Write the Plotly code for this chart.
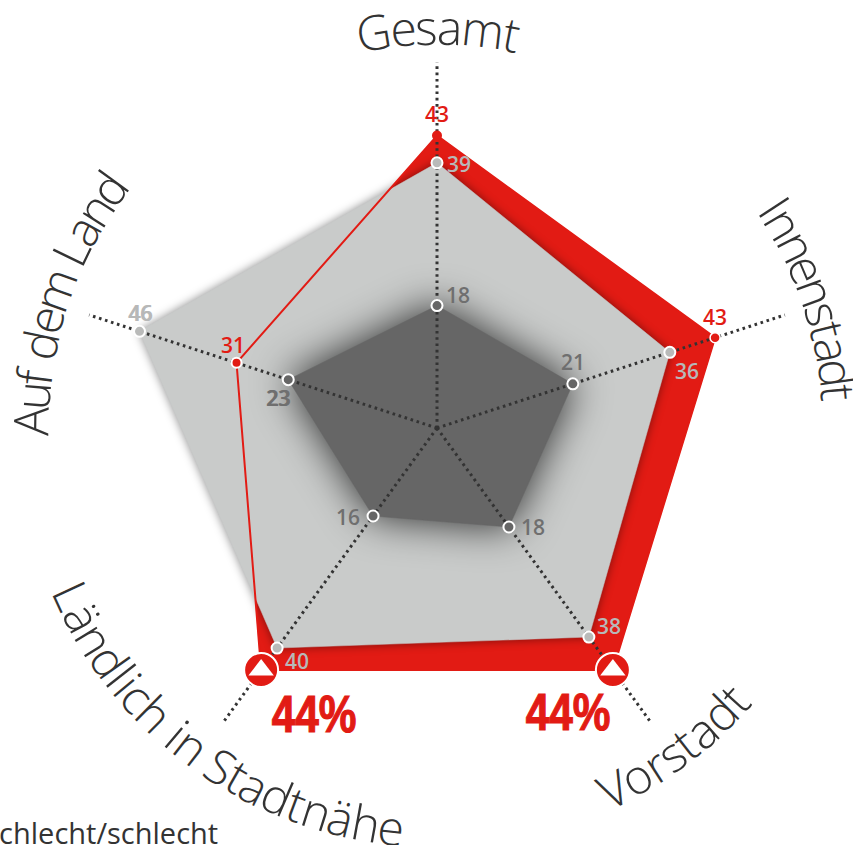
import math
import plotly.graph_objects as go

# Werte aus der Grafik, im Uhrzeigersinn ab "Gesamt"
categories = ["Gesamt", "Innenstadt", "Vorstadt", "Ländlich in Stadtnähe", "Auf dem Land"]
red_values = [43, 43, 44, 44, 31]
light_values = [39, 36, 38, 40, 46]
dark_values = [18, 21, 18, 16, 23]
spoke_ends = [53.8, 53.8, 53.2, 53.2, 53.8]
footnote = "sehr schlecht/schlecht"

RED = "#e21b14"
LIGHT = "#c9cbca"
DARK = "#666666"
INK = "#333333"
FONT = "Open Sans"

W, H = 853, 845
CX, CY = 437, 428
PX_PER_UNIT = 6.8
R_MAX = 54

# Mitte, Spanne (Grad), Radius der Beschriftung
label_arcs = {
    "Gesamt": (0.2, 23.4, 402),
    "Innenstadt": (71.0, 30.2, 404),
    "Vorstadt": (143.5, 24.7, 401),
    "Ländlich in Stadtnähe": (215.9, 62.0, 401),
    "Auf dem Land": (-71.5, 39.0, 407),
}
glyph_widths = {
    "G": .73, "e": .56, "s": .47, "a": .55, "m": .93, "t": .35, "I": .30, "n": .61,
    "d": .61, "V": .60, "o": .60, "r": .40, "L": .52, "ä": .55, "l": .26, "i": .26,
    "c": .47, "h": .61, " ": .26, "S": .52, "A": .63, "u": .61, "f": .34,
}


def closed(values):
    return values + values[:1], categories + categories[:1]


def to_paper(px, py):
    return px / W, 1 - py / H


def point_px(value, idx):
    a = math.radians(72 * idx)
    r = value * PX_PER_UNIT
    return CX + r * math.sin(a), CY - r * math.cos(a)


def polygon(fig, values, color):
    r, theta = closed(values)
    fig.add_trace(go.Scatterpolar(r=r, theta=theta, mode="lines", fill="toself", fillcolor=color,
                                  line=dict(color=color, width=0.5), hoverinfo="skip"))


def value_label(text, value, idx, dx, dy, color, size=21, weight=600, font=FONT):
    px, py = point_px(value, idx)
    x, y = to_paper(px + dx, py + dy)
    fig.add_annotation(x=x, y=y, xref="paper", yref="paper", xanchor="center", yanchor="middle",
                       text=text, showarrow=False,
                       font=dict(family=font, size=size, color=color, weight=weight))


def arc_label(text):
    # Text auf Kreisbahn um die Mitte, wie im Original
    mid, span, radius = label_arcs[text]
    total = sum(glyph_widths[c] for c in text)
    bottom = 90 < mid % 360 < 270
    pos = 0
    for c in text:
        w = glyph_widths[c]
        frac = (pos + w / 2) / total - 0.5
        pos += w
        ang = mid - frac * span if bottom else mid + frac * span
        a = math.radians(ang)
        x, y = to_paper(CX + radius * math.sin(a), CY - radius * math.cos(a))
        tilt = ang - 180 if bottom else ang
        if c != " ":
            fig.add_annotation(x=x, y=y, xref="paper", yref="paper", xanchor="center", yanchor="middle",
                               text=c, showarrow=False, textangle=tilt,
                               font=dict(family=FONT, size=48, color=INK, weight=300))


fig = go.Figure()

polygon(fig, red_values, RED)
polygon(fig, light_values, "rgba(0,0,0,0.45)")   # Schatten, Index 1
polygon(fig, light_values, LIGHT)
polygon(fig, dark_values, "rgba(0,0,0,0.8)")     # Schatten, Index 3
polygon(fig, dark_values, DARK)

# rote Kontur liegt über den grauen Flächen
r, theta = closed(red_values)
fig.add_trace(go.Scatterpolar(r=r, theta=theta, mode="lines", line=dict(color=RED, width=2), hoverinfo="skip"))

# gepunktete Achsen
for cat, end in zip(categories, spoke_ends):
    fig.add_trace(go.Scatterpolar(r=[0, end], theta=[cat, cat], mode="lines", hoverinfo="skip",
                                  line=dict(color="#333333", width=3, dash="2.6px,3.7px")))

fig.add_trace(go.Scatterpolar(r=dark_values, theta=categories, mode="markers", hoverinfo="skip",
                              marker=dict(size=11, color=DARK, line=dict(color="white", width=2))))
fig.add_trace(go.Scatterpolar(r=light_values, theta=categories, mode="markers", hoverinfo="skip",
                              marker=dict(size=11, color="#b9bab9", line=dict(color="white", width=2))))
fig.add_trace(go.Scatterpolar(r=red_values[:2] + red_values[4:], theta=categories[:2] + categories[4:],
                              mode="markers", hoverinfo="skip",
                              marker=dict(size=10, color=RED, line=dict(color="white", width=[0, 1.5, 2]))))

# Warnkreise bei den Höchstwerten
fig.add_trace(go.Scatterpolar(r=red_values[2:4], theta=categories[2:4], mode="markers", hoverinfo="skip",
                              marker=dict(size=34, color=RED, line=dict(color="white", width=2))))
fig.add_trace(go.Scatterpolar(r=red_values[2:4], theta=categories[2:4], mode="markers", hoverinfo="skip",
                              marker=dict(size=22, color="white", symbol="triangle-up")))

for cat in categories:
    arc_label(cat)

GREY_TXT = "#b7b8b8"
DARK_TXT = "#6f6f6f"
red_off = [(0, -22), (0, -21), None, None, (-4, -18)]
light_off = [(22, 1), (17, 19), (20, -11), (20, 13), (0, -18)]
dark_off = [(21, -11), (0, -22), (24, 0), (-25, 1), (-10, 18)]
for i in range(5):
    if red_off[i]:
        value_label(str(red_values[i]), red_values[i], i, *red_off[i], RED)
    value_label(str(light_values[i]), light_values[i], i, *light_off[i], GREY_TXT)
    value_label(str(dark_values[i]), dark_values[i], i, *dark_off[i], DARK_TXT)

# doppelt gesetzte Zahlen wie im Original
value_label(str(light_values[4]), light_values[4], 4, 1, -18, GREY_TXT)
value_label(str(dark_values[4]), dark_values[4], 4, -9, 18, DARK_TXT)

heavy = "Liberation Sans"
value_label(f"{red_values[2]}%", red_values[2], 2, -45, 42, RED, size=51, weight=700, font=heavy)
value_label(f"{red_values[3]}%", red_values[3], 3, 53, 44, RED, size=51, weight=700, font=heavy)

fx, fy = to_paper(220, 832)
fig.add_annotation(x=fx, y=fy, xref="paper", yref="paper", xanchor="right", yanchor="middle",
                   text=footnote, showarrow=False,
                   font=dict(family=FONT, size=29, color=INK, weight=400))

span = R_MAX * PX_PER_UNIT
fig.update_layout(
    width=W,
    height=H,
    margin=dict(l=0, r=0, t=0, b=0),
    paper_bgcolor="white",
    showlegend=False,
    polar=dict(
        domain=dict(x=[(CX - span) / W, (CX + span) / W], y=[1 - (CY + span) / H, 1 - (CY - span) / H]),
        bgcolor="rgba(0,0,0,0)",
        radialaxis=dict(visible=False, range=[0, R_MAX]),
        angularaxis=dict(visible=False, type="category", categoryorder="array", categoryarray=categories,
                         direction="clockwise", rotation=90),
    ),
)

# weiche Schatten, schmale 44%-Zahlen und kein Seitenrand
post = """
document.body.style.margin = '0';
var t = document.querySelectorAll('.polar .scatterlayer .trace');
t[1].style.filter = 'blur(5px)';
t[3].style.filter = 'blur(20px)';
document.querySelectorAll('.annotation-text').forEach(function (a) {
    if (a.textContent === '44%') {
        a.style.transformBox = 'fill-box';
        a.style.transformOrigin = 'center';
        a.style.transform = 'scaleX(0.83)';
        a.style.stroke = '#e21b14';
        a.style.strokeWidth = '1.2px';
    }
});
"""
fig.write_html("out.html", post_script=post, config=dict(displayModeBar=False))
